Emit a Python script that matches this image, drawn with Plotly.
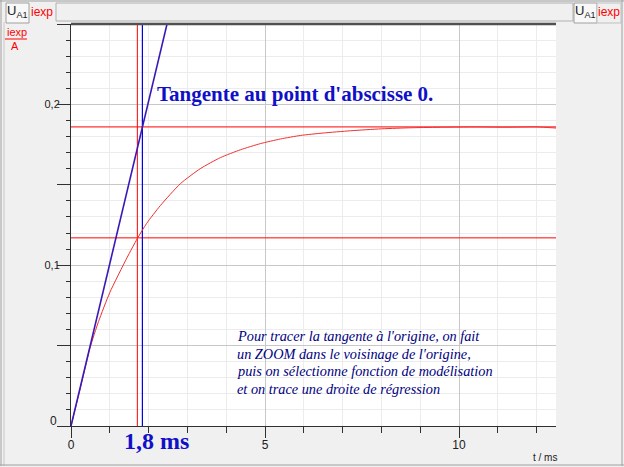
import plotly.graph_objects as go

# ---- data ----
t_ms = [0, 0.25, 0.49, 0.71, 1.0, 1.44, 1.71, 1.95, 2.3, 2.82, 3.33, 3.85, 4.37, 4.88,
        5.4, 5.92, 6.5, 7.2, 8.0, 8.8, 9.6, 10.4, 11.2, 12.0, 12.5]
i_exp = [0, 0.0245, 0.0485, 0.065, 0.083, 0.1045, 0.1166, 0.126, 0.137, 0.1507, 0.160,
         0.1669, 0.1718, 0.1756, 0.1785, 0.1807, 0.1822, 0.1836, 0.1848, 0.1855, 0.1858,
         0.1860, 0.1858, 0.1860, 0.1853]
tangent_t = [0, 2.6]
tangent_i = [0, 0.2626]
i_max = 0.186
i_63 = 0.117
t_red = 1.71
t_blue = 1.84
x_range = [0, 12.5]
y_range = [0, 0.25]
x_ticks = [0, 5, 10]
x_ticklabels = ["0", "5", "10"]
y_ticks = [0.1, 0.2]
y_ticklabels = ["0,1", "0,2"]
y_unlabeled_ticks = [0, 0.05, 0.15, 0.25]

W, H = 624, 467
L, R, T, B = 71, 556, 24, 426


def px(x):
    return (x - L) / (R - L)


def py(y):
    return (B - y) / (B - T)


fig = go.Figure()

fig.add_trace(go.Scatter(x=[], y=[], yaxis="y2", showlegend=False, hoverinfo="skip"))
fig.add_trace(go.Scatter(x=x_range, y=[i_max, i_max], mode="lines",
                         line=dict(color="#ff0000", width=1), hoverinfo="skip"))
fig.add_trace(go.Scatter(x=x_range, y=[i_63, i_63], mode="lines",
                         line=dict(color="#ff0000", width=1), hoverinfo="skip"))
fig.add_trace(go.Scatter(x=[t_red, t_red], y=y_range, mode="lines",
                         line=dict(color="#ff0000", width=1), hoverinfo="skip"))
fig.add_trace(go.Scatter(x=[t_blue, t_blue], y=y_range, mode="lines",
                         line=dict(color="#0000dd", width=1.2), hoverinfo="skip"))
fig.add_trace(go.Scatter(x=t_ms, y=i_exp, mode="lines", line_shape="spline",
                         line=dict(color="#f03030", width=1, smoothing=0.6), hoverinfo="skip"))
fig.add_trace(go.Scatter(x=tangent_t, y=tangent_i, mode="lines",
                         line=dict(color="#3a18b8", width=1.6), hoverinfo="skip"))

shapes = []
# frame borders
shapes.append(dict(type="line", xref="paper", yref="paper", x0=px(1), x1=px(1), y0=py(0), y1=py(466),
                   line=dict(color="#a0a0a0", width=1)))
shapes.append(dict(type="line", xref="paper", yref="paper", x0=px(4), x1=px(4), y0=py(22), y1=py(466),
                   line=dict(color="#c8c8c8", width=1)))
shapes.append(dict(type="line", xref="paper", yref="paper", x0=px(0), x1=px(624), y0=py(465), y1=py(465),
                   line=dict(color="#a0a0a0", width=1)))
shapes.append(dict(type="line", xref="paper", yref="paper", x0=px(622), x1=px(622), y0=py(0), y1=py(466),
                   line=dict(color="#a0a0a0", width=1)))
shapes.append(dict(type="line", xref="paper", yref="paper", x0=px(0), x1=px(624), y0=py(1), y1=py(1),
                   line=dict(color="#a0a0a0", width=1)))
# top bar boxes
shapes.append(dict(type="rect", xref="paper", yref="paper", x0=px(56), x1=px(573), y0=py(3), y1=py(21),
                   line=dict(color="#b0b0b0", width=1), fillcolor="#f0f0f0"))
shapes.append(dict(type="rect", xref="paper", yref="paper", x0=px(6), x1=px(29), y0=py(3), y1=py(23),
                   line=dict(color="#a0a0a0", width=1), fillcolor="#f8f8f8"))
shapes.append(dict(type="rect", xref="paper", yref="paper", x0=px(574), x1=px(597), y0=py(3), y1=py(23),
                   line=dict(color="#a0a0a0", width=1), fillcolor="#f8f8f8"))
shapes.append(dict(type="rect", xref="paper", yref="paper", x0=px(597), x1=px(621), y0=py(3), y1=py(23),
                   line=dict(color="#c0c0c0", width=1), fillcolor="#f0f0f0"))
# left unit fraction line
shapes.append(dict(type="line", xref="paper", yref="paper", x0=px(5), x1=px(27), y0=py(39), y1=py(39),
                   line=dict(color="#ff0000", width=1)))
# top dark line of plot
shapes.append(dict(type="line", xref="paper", yref="paper", x0=0, x1=1, y0=1, y1=1,
                   line=dict(color="#505050", width=2.5)))

ann = []


def text(x, y, s, size, color, family="Liberation Sans, Arial", xanchor="center", bold=False, italic=False):
    if bold:
        s = "<b>" + s + "</b>"
    if italic:
        s = "<i>" + s + "</i>"
    ann.append(dict(xref="paper", yref="paper", x=px(x), y=py(y), text=s, showarrow=False,
                    xanchor=xanchor, yanchor="middle", font=dict(size=size, color=color, family=family)))


text(17, 12, "U<sub>A1</sub>", 13, "#202020")
text(42, 12, "iexp", 12, "#ff0000")
text(585, 12, "U<sub>A1</sub>", 13, "#202020")
text(609, 12, "iexp", 12, "#ff0000")
text(17, 32, "iexp", 11, "#ff0000")
text(15, 46, "A", 11, "#ff0000")
text(53, 421, "0", 12, "#202020")
text(545, 457, "t / ms", 10, "#202020")
text(155, 94, "Tangente au point d'abscisse 0.", 21, "#1010c8",
     family="Liberation Serif, Times New Roman", xanchor="left", bold=True)
text(156, 441, "1,8 ms", 24, "#1010c8",
     family="Liberation Serif, Times New Roman", bold=True)
lines = ["Pour tracer la tangente à l'origine, on fait",
         "un ZOOM dans le voisinage de l'origine,",
         "puis on sélectionne fonction de modélisation",
         "et on trace une droite de régression"]
for k, s in enumerate(lines):
    text(235, 336 + 17.7 * k, s, 14.3, "#000080",
         family="Liberation Serif, Times New Roman", xanchor="left", italic=True)

fig.update_layout(
    width=W, height=H,
    margin=dict(l=L, r=W - R, t=T, b=H - B, pad=0),
    paper_bgcolor="#f0f0f0", plot_bgcolor="#ffffff",
    showlegend=False,
    shapes=shapes, annotations=ann,
    xaxis=dict(range=x_range, tickvals=x_ticks, ticktext=x_ticklabels, ticks="outside",
               ticklen=11, tickcolor="#303030", showline=True, linecolor="#303030", linewidth=1,
               showgrid=True, gridcolor="#c8c8c8", gridwidth=1, zeroline=False,
               ticklabelstandoff=-3,
               tickfont=dict(size=12, color="#202020", family="Liberation Sans, Arial"),
               minor=dict(dtick=1, ticks="outside", ticklen=6, tickcolor="#303030",
                          showgrid=True, gridcolor="#ececec")),
    yaxis=dict(range=y_range, tickvals=y_ticks, ticktext=y_ticklabels, ticks="outside",
               ticklen=13, tickcolor="#303030", showline=True, linecolor="#303030", linewidth=1,
               showgrid=True, gridcolor="#c8c8c8", gridwidth=1, zeroline=False,
               ticklabelstandoff=-5,
               tickfont=dict(size=11, color="#202020", family="Liberation Sans, Arial"),
               minor=dict(dtick=0.01, ticks="outside", ticklen=4, tickcolor="#303030",
                          showgrid=True, gridcolor="#ececec")),
    yaxis2=dict(range=y_range, overlaying="y", side="left", tickvals=y_unlabeled_ticks,
                showticklabels=False, ticks="outside", ticklen=13, tickcolor="#303030",
                showline=False, showgrid=True, gridcolor="#c8c8c8", gridwidth=1, zeroline=False),
)

fig.write_html("out.html", config={"displayModeBar": False},
               post_script="document.body.style.margin='0';document.body.style.overflow='hidden';")
